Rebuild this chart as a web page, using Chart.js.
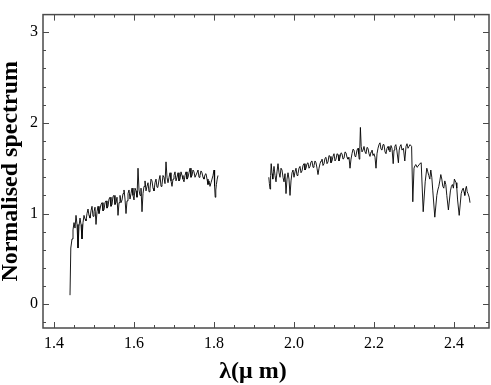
<!DOCTYPE html>
<html>
<head>
<meta charset="utf-8">
<script src="https://cdn.jsdelivr.net/npm/chart.js@4.4.1/dist/chart.umd.min.js"></script>
<style>
  html, body { margin: 0; padding: 0; background: #fff; }
</style>
</head>
<body>
<canvas id="spectrumChart" width="491" height="385"></canvas>
<script>
// H band segment (wavelength in micron, normalised flux)
const hBandX = [
  1.440, 1.442, 1.445, 1.4475, 1.450, 1.4525, 1.455, 1.4575, 1.460, 1.4625,
  1.465, 1.4675, 1.470, 1.4725, 1.475, 1.4775, 1.480, 1.4825, 1.485, 1.4875,
  1.490, 1.4925, 1.495, 1.4975, 1.500, 1.5025, 1.505, 1.5075, 1.510, 1.5125,
  1.515, 1.5175, 1.520, 1.5225, 1.525, 1.5275, 1.530, 1.5325, 1.535, 1.5375,
  1.540, 1.5425, 1.545, 1.5475, 1.550, 1.5525, 1.555, 1.5575, 1.560, 1.5625,
  1.565, 1.5675, 1.570, 1.5725, 1.575, 1.5775, 1.580, 1.5825, 1.585, 1.5875,
  1.590, 1.5925, 1.595, 1.5975, 1.600, 1.6025, 1.605, 1.6075, 1.610, 1.6125,
  1.615, 1.6175, 1.620, 1.6225, 1.625, 1.6275, 1.630, 1.6325, 1.635, 1.6375,
  1.640, 1.6425, 1.645, 1.6475, 1.650, 1.6525, 1.655, 1.6575, 1.660, 1.6625,
  1.665, 1.6675, 1.670, 1.6725, 1.675, 1.6775, 1.680, 1.6825, 1.685, 1.6875,
  1.690, 1.6925, 1.695, 1.6975, 1.700, 1.7025, 1.705, 1.7075, 1.710, 1.7125,
  1.715, 1.7175, 1.720, 1.7225, 1.725, 1.7275, 1.730, 1.7325, 1.735, 1.7375,
  1.740, 1.7425, 1.745, 1.7475, 1.750, 1.7525, 1.755, 1.7575, 1.760, 1.7625,
  1.765, 1.7675, 1.770, 1.7725, 1.775, 1.7775, 1.780, 1.7825, 1.785, 1.7875,
  1.790, 1.7925, 1.795, 1.7975, 1.800, 1.8015, 1.803, 1.8045, 1.806, 1.808,
  1.810];
const hBandY = [
  0.10, 0.62, 0.72, 0.82, 0.90, 0.84, 0.98, 0.88, 0.62, 0.86,
  0.95, 0.88, 0.72, 0.90, 0.98, 0.94, 0.92, 1.00, 1.05, 0.98,
  0.95, 1.03, 1.08, 0.97, 1.02, 1.07, 0.88, 1.02, 1.08, 1.00,
  1.05, 1.10, 1.12, 1.03, 1.04, 1.12, 1.14, 1.06, 1.08, 1.16,
  1.18, 1.08, 1.10, 1.19, 1.20, 1.10, 1.12, 1.18, 0.98, 1.12,
  1.20, 1.12, 1.15, 1.22, 1.26, 1.16, 1.00, 1.14, 1.22, 1.26,
  1.16, 1.22, 1.28, 1.20, 1.15, 1.28, 1.25, 1.18, 1.50, 1.26,
  1.20, 1.28, 1.02, 1.22, 1.30, 1.36, 1.25, 1.30, 1.34, 1.24,
  1.28, 1.38, 1.36, 1.28, 1.25, 1.34, 1.38, 1.29, 1.30, 1.37,
  1.42, 1.30, 1.32, 1.42, 1.40, 1.33, 1.57, 1.40, 1.34, 1.40,
  1.45, 1.36, 1.30, 1.38, 1.42, 1.46, 1.36, 1.40, 1.45, 1.36,
  1.38, 1.46, 1.42, 1.38, 1.35, 1.42, 1.46, 1.38, 1.40, 1.45,
  1.50, 1.40, 1.42, 1.48, 1.46, 1.40, 1.40, 1.45, 1.48, 1.40,
  1.42, 1.47, 1.45, 1.40, 1.38, 1.43, 1.44, 1.38, 1.32, 1.36,
  1.30, 1.34, 1.38, 1.42, 1.48, 1.30, 1.18, 1.26, 1.32, 1.38,
  1.42];

// K band segment
const kBandX = [
  1.937, 1.9385, 1.940, 1.9415, 1.943, 1.945, 1.947, 1.9485, 1.950, 1.9525,
  1.955, 1.9575, 1.960, 1.9625, 1.965, 1.9675, 1.970, 1.9725, 1.975, 1.9775,
  1.980, 1.9825, 1.985, 1.9875, 1.990, 1.9925, 1.995, 1.9975, 2.000, 2.0025,
  2.005, 2.0075, 2.010, 2.0125, 2.015, 2.0175, 2.020, 2.0225, 2.025, 2.0275,
  2.030, 2.0325, 2.035, 2.0375, 2.040, 2.0425, 2.045, 2.0475, 2.050, 2.0525,
  2.055, 2.0575, 2.060, 2.0625, 2.065, 2.0675, 2.070, 2.0725, 2.075, 2.0775,
  2.080, 2.0825, 2.085, 2.0875, 2.090, 2.0925, 2.095, 2.0975, 2.100, 2.1025,
  2.105, 2.1075, 2.110, 2.1125, 2.115, 2.1175, 2.120, 2.1225, 2.125, 2.1275,
  2.130, 2.1325, 2.135, 2.1375, 2.140, 2.1425, 2.145, 2.1475, 2.150, 2.1525,
  2.155, 2.1575, 2.160, 2.1615, 2.163, 2.1645, 2.166, 2.168, 2.170, 2.1725,
  2.175, 2.1775, 2.180, 2.1825, 2.185, 2.1875, 2.190, 2.1925, 2.195, 2.1975,
  2.200, 2.2025, 2.205, 2.2075, 2.210, 2.2125, 2.215, 2.2175, 2.220, 2.2225,
  2.225, 2.2275, 2.230, 2.2325, 2.235, 2.2375, 2.240, 2.2425, 2.245, 2.248,
  2.250, 2.252, 2.2545, 2.257, 2.261, 2.263, 2.265, 2.2675, 2.270, 2.2735,
  2.277, 2.280, 2.2825, 2.285, 2.2875, 2.290, 2.294, 2.297, 2.300, 2.3025,
  2.305, 2.3075, 2.310, 2.3125, 2.315, 2.318, 2.323, 2.328, 2.332, 2.3345,
  2.337, 2.3395, 2.342, 2.3445, 2.347, 2.352, 2.357, 2.3595, 2.362, 2.3645,
  2.367, 2.3695, 2.372, 2.3745, 2.377, 2.3795, 2.382, 2.386, 2.391, 2.3935,
  2.396, 2.3985, 2.401, 2.405, 2.407, 2.409, 2.413, 2.418, 2.4205, 2.423,
  2.425, 2.427, 2.429, 2.431, 2.433, 2.435, 2.438, 2.440];
const kBandY = [
  1.40, 1.33, 1.27, 1.42, 1.55, 1.44, 1.38, 1.46, 1.52, 1.42,
  1.35, 1.46, 1.55, 1.45, 1.40, 1.50, 1.48, 1.40, 1.35, 1.44,
  1.22, 1.38, 1.45, 1.38, 1.20, 1.36, 1.45, 1.48, 1.40, 1.46,
  1.50, 1.42, 1.44, 1.50, 1.52, 1.45, 1.47, 1.53, 1.55, 1.48,
  1.50, 1.55, 1.56, 1.50, 1.52, 1.57, 1.58, 1.51, 1.53, 1.58,
  1.56, 1.50, 1.43, 1.50, 1.55, 1.58, 1.60, 1.53, 1.55, 1.61,
  1.62, 1.55, 1.57, 1.64, 1.63, 1.56, 1.58, 1.63, 1.66, 1.58,
  1.60, 1.66, 1.65, 1.58, 1.62, 1.67, 1.66, 1.60, 1.61, 1.68,
  1.67, 1.62, 1.60, 1.62, 1.50, 1.60, 1.66, 1.71, 1.70, 1.63,
  1.64, 1.70, 1.72, 1.66, 1.60, 1.72, 1.95, 1.74, 1.68, 1.70,
  1.74, 1.68, 1.66, 1.73, 1.72, 1.66, 1.63, 1.68, 1.70, 1.64,
  1.66, 1.62, 1.50, 1.66, 1.72, 1.76, 1.78, 1.71, 1.70, 1.76,
  1.76, 1.68, 1.66, 1.72, 1.74, 1.70, 1.68, 1.75, 1.72, 1.55,
  1.70, 1.74, 1.76, 1.70, 1.56, 1.70, 1.74, 1.76, 1.70, 1.72,
  1.58, 1.74, 1.77, 1.72, 1.74, 1.76, 1.74, 1.13, 1.50, 1.53,
  1.54, 1.51, 1.52, 1.54, 1.55, 1.56, 1.02, 1.35, 1.50, 1.46,
  1.42, 1.38, 1.48, 1.40, 1.25, 0.96, 1.20, 1.26, 1.30, 1.36,
  1.43, 1.38, 1.30, 1.28, 1.36, 1.32, 1.20, 1.04, 1.25, 1.30,
  1.32, 1.28, 1.38, 1.34, 1.28, 1.15, 0.98, 1.22, 1.26, 1.28,
  1.24, 1.20, 1.27, 1.30, 1.24, 1.22, 1.18, 1.12];

// axis ticks
const xMajorTicks = [1.4, 1.6, 1.8, 2.0, 2.2, 2.4];
const xMinorTicks = [1.40, 1.45, 1.50, 1.55, 1.60, 1.65, 1.70, 1.75, 1.80, 1.85, 1.90,
  1.95, 2.00, 2.05, 2.10, 2.15, 2.20, 2.25, 2.30, 2.35, 2.40, 2.45];
const yMajorTicks = [0, 1, 2, 3];
const yMinorTicks = [-0.2, 0, 0.2, 0.4, 0.6, 0.8, 1.0, 1.2, 1.4, 1.6, 1.8, 2.0,
  2.2, 2.4, 2.6, 2.8, 3.0];

const xTitle = 'λ(μ m)';
const yTitle = 'Normalised spectrum';

const serif = "'Liberation Serif', 'DejaVu Serif', serif";

function toPoints(xs, ys) {
    return xs.map((x, i) => ({ x: x, y: ys[i] }));
}

// draws the frame, inward ticks on all four sides and the axis titles
const frameTicks = {
    id: 'frameTicks',
    afterDatasetsDraw(chart) {
        const ctx = chart.ctx;
        const a = chart.chartArea;
        const xs = chart.scales.x;
        const ys = chart.scales.y;
        ctx.save();
        ctx.strokeStyle = '#4a4a4a';
        ctx.lineWidth = 1;

        const tick = (x1, y1, x2, y2) => {
            ctx.beginPath();
            ctx.moveTo(x1, y1);
            ctx.lineTo(x2, y2);
            ctx.stroke();
        };

        xMinorTicks.forEach(v => {
            const px = Math.round(xs.getPixelForValue(v)) + 0.5;
            const len = xMajorTicks.some(m => Math.abs(m - v) < 1e-6) ? 6 : 3;
            tick(px, a.bottom, px, a.bottom - len);
            tick(px, a.top, px, a.top + len);
        });
        yMinorTicks.forEach(v => {
            const py = Math.round(ys.getPixelForValue(v)) + 0.5;
            const len = yMajorTicks.some(m => Math.abs(m - v) < 1e-6) ? 6 : 3;
            tick(a.left, py, a.left + len, py);
            tick(a.right, py, a.right - len, py);
        });

        ctx.lineWidth = 1.5;
        ctx.strokeRect(a.left, a.top, a.right - a.left, a.bottom - a.top);

        ctx.fillStyle = '#000';
        ctx.font = 'bold 24px ' + serif;
        ctx.textAlign = 'center';
        ctx.textBaseline = 'middle';
        ctx.fillText(xTitle, 253, 372);
        ctx.translate(11, (a.top + a.bottom) / 2);
        ctx.rotate(-Math.PI / 2);
        ctx.fillText(yTitle, 0, 0);
        ctx.restore();
    }
};

const lineStyle = {
    borderColor: '#000',
    borderWidth: 0.9,
    pointRadius: 0,
    tension: 0,
    fill: false
};

const ctx = document.getElementById('spectrumChart').getContext('2d');
new Chart(ctx, {
    type: 'line',
    data: {
        datasets: [
            Object.assign({ label: 'H', data: toPoints(hBandX, hBandY) }, lineStyle),
            Object.assign({ label: 'K', data: toPoints(kBandX, kBandY) }, lineStyle)
        ]
    },
    options: {
        responsive: false,
        animation: false,
        devicePixelRatio: 1,
        layout: { padding: { top: 2, right: 2, left: 0, bottom: 0 } },
        plugins: {
            legend: { display: false },
            tooltip: { enabled: false }
        },
        scales: {
            x: {
                type: 'linear',
                min: 1.3725,
                max: 2.4875,
                grid: { display: false, drawTicks: false },
                border: { display: false },
                afterBuildTicks: scale => { scale.ticks = xMajorTicks.map(v => ({ value: v })); },
                afterFit: scale => { scale.height = 57; },
                ticks: {
                    autoSkip: false,
                    maxRotation: 0,
                    padding: 6,
                    color: '#000',
                    font: { family: serif, size: 16 },
                    callback: v => v.toFixed(1)
                }
            },
            y: {
                type: 'linear',
                min: -0.262,
                max: 3.194,
                grid: { display: false, drawTicks: false },
                border: { display: false },
                afterBuildTicks: scale => { scale.ticks = yMajorTicks.map(v => ({ value: v })); },
                afterFit: scale => { scale.width = 43; },
                ticks: {
                    autoSkip: false,
                    padding: 5,
                    color: '#000',
                    font: { family: serif, size: 16 },
                    callback: v => String(v)
                }
            }
        }
    },
    plugins: [frameTicks]
});
</script>
</body>
</html>
